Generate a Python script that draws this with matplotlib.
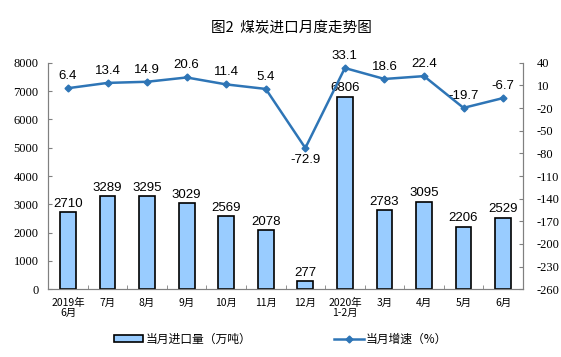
import matplotlib
matplotlib.use("Agg")
import matplotlib.pyplot as plt
import numpy as np

categories = ["2019年\n6月", "7月", "8月", "9月", "10月", "11月", "12月",
              "2020年\n1-2月", "3月", "4月", "5月", "6月"]
imports = [2710, 3289, 3295, 3029, 2569, 2078, 277, 6806, 2783, 3095, 2206, 2529]
growth = [6.4, 13.4, 14.9, 20.6, 11.4, 5.4, -72.9, 33.1, 18.6, 22.4, -19.7, -6.7]
left_ticks = list(range(0, 8001, 1000))
right_ticks = list(range(40, -261, -30))

cjk = ["Noto Sans CJK SC", "DejaVu Sans"]
serif = ["Liberation Serif", "Noto Sans CJK SC"]
sans = ["Liberation Sans", "DejaVu Sans"]

fig = plt.figure(figsize=(5.61, 3.57), dpi=100)
ax = fig.add_axes([0.086, 0.19, 0.846, 0.634])
x = np.arange(len(categories))
bars = ax.bar(x, imports, width=0.4, color="#99CCFF", edgecolor="black", linewidth=1.2,
              label="当月进口量（万吨）", zorder=2)
ax.set_ylim(0, 8000)
ax.set_xlim(-0.5, len(categories) - 0.5)
ax.set_yticks(left_ticks)
ax.set_yticklabels([str(t) for t in left_ticks], family=serif, fontsize=9)
ax.set_xticks(x)
ax.set_xticklabels(categories, family=cjk, fontsize=7.5, linespacing=1.1)
ax.tick_params(axis="x", length=0, pad=6)
ax.set_xticks(np.arange(-0.5, len(categories), 1), minor=True)
ax.tick_params(axis="x", which="minor", length=3, color="#808080", direction="in")
ax.tick_params(axis="y", length=3, pad=7, direction="in", color="#808080")
for s in ["top"]:
    ax.spines[s].set_visible(False)
for s in ["left", "bottom", "right"]:
    ax.spines[s].set_color("#808080")
for xi, v in zip(x, imports):
    ax.text(xi, v + 80, str(v), ha="center", va="bottom", fontsize=9.5, family=sans)

ax2 = ax.twinx()
ax2.set_ylim(-260, 40)
ax2.set_yticks(right_ticks)
ax2.set_yticklabels([str(t) for t in right_ticks], family=serif, fontsize=9)
ax2.tick_params(axis="y", length=3, color="#808080", pad=10, direction="in")
ax2.spines["top"].set_visible(False)
for s in ["left", "bottom", "right"]:
    ax2.spines[s].set_color("#808080")
line, = ax2.plot(x, growth, color="#2E75B6", linewidth=1.8, marker="D", markersize=3.5,
                 label="当月增速（%）", zorder=3)
for xi, v in zip(x, growth):
    if v < -50:
        ax2.text(xi, v - 8, f"{v}", ha="center", va="top", fontsize=9.5, family=sans)
    else:
        ax2.text(xi, v + 8, f"{v}", ha="center", va="bottom", fontsize=9.5, family=sans)

fig.text(0.52, 0.92, "图2  煤炭进口月度走势图", ha="center", va="center",
         fontsize=10.5, family=cjk)
fig.legend([bars, line], ["当月进口量（万吨）", "当月增速（%）"], loc="center",
           bbox_to_anchor=(0.5, 0.05), ncol=2, frameon=False,
           prop={"family": cjk, "size": 8.5}, columnspacing=7, handlelength=2.5,
           handletextpad=0.2, handleheight=0.5)
fig.savefig("out.png", dpi=100)
